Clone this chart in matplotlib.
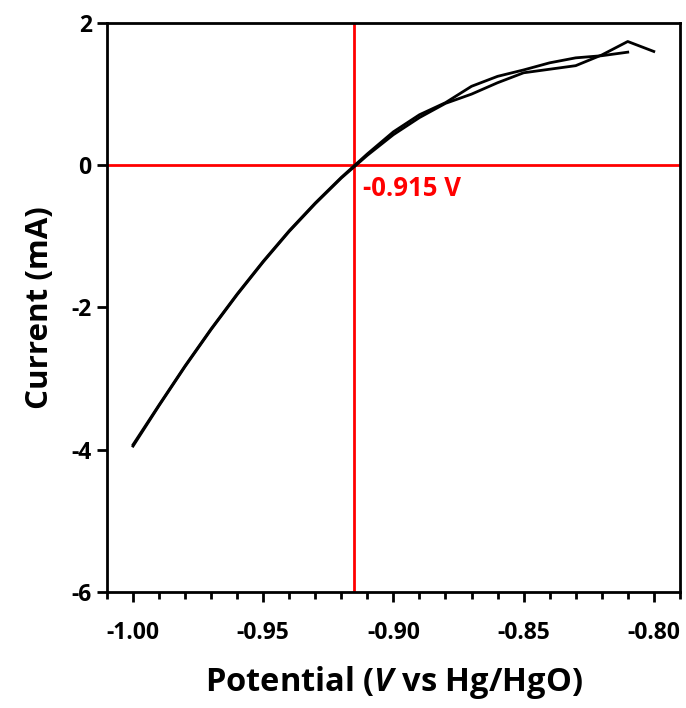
import numpy as np
import matplotlib
matplotlib.use('Agg')
import matplotlib.pyplot as plt
from matplotlib.ticker import MultipleLocator

plt.rcParams['font.family'] = ['Open Sans', 'DejaVu Sans']
plt.rcParams['font.weight'] = 'bold'
plt.rcParams['mathtext.fontset'] = 'custom'
plt.rcParams['mathtext.bfit'] = 'Open Sans:bold:italic'
plt.rcParams['mathtext.rm'] = 'Open Sans:bold'

# barrido de ida (-1.00 -> -0.80)
potencial_ida = [-1.00, -0.99, -0.98, -0.97, -0.96, -0.95, -0.94, -0.93, -0.92, -0.91, -0.90,
                 -0.89, -0.88, -0.87, -0.86, -0.85, -0.84, -0.83, -0.82, -0.81, -0.80]
corriente_ida = [-3.95, -3.38, -2.83, -2.31, -1.82, -1.36, -0.93, -0.54, -0.18, 0.14, 0.43,
                 0.67, 0.87, 1.00, 1.16, 1.30, 1.35, 1.40, 1.55, 1.74, 1.60]

# barrido de vuelta (-0.81 -> -1.00)
potencial_vuelta = [-0.81, -0.82, -0.83, -0.84, -0.85, -0.86, -0.87, -0.88, -0.89, -0.90,
                    -0.91, -0.92, -0.93, -0.94, -0.95, -0.96, -0.97, -0.98, -0.99, -1.00]
corriente_vuelta = [1.59, 1.54, 1.51, 1.44, 1.34, 1.25, 1.11, 0.88, 0.71, 0.47,
                    0.16, -0.17, -0.53, -0.92, -1.35, -1.81, -2.30, -2.82, -3.37, -3.93]

# potencial de corriente cero
e_cero = -0.915

fig = plt.figure(figsize=(6.86, 7.08), dpi=100)
ax = fig.add_axes([0.156, 0.164, 0.835, 0.8035])

ax.axvline(e_cero, color='red', lw=2, zorder=1)
ax.axhline(0, color='red', lw=2, zorder=1)
ax.plot(potencial_ida, corriente_ida, color='black', lw=2, zorder=2)
ax.plot(potencial_vuelta, corriente_vuelta, color='black', lw=2, zorder=2)

ax.text(e_cero + 0.0035, -0.33, '-0.915 V', color='red', fontsize=18.5,
        fontweight='bold', ha='left', va='center')

ax.set_xlim(-1.01, -0.79)
ax.set_ylim(-6, 2)
ax.xaxis.set_minor_locator(MultipleLocator(0.01))
ax.set_xticks([-1.00, -0.95, -0.90, -0.85, -0.80])
ax.set_xticklabels(['-1.00', '-0.95', '-0.90', '-0.85', '-0.80'], fontweight='bold')
ax.set_yticks([-6, -4, -2, 0, 2])
ax.set_yticklabels(['-6', '-4', '-2', '0', '2'], fontweight='bold')

ax.tick_params(axis='both', which='major', direction='out', length=7, width=2,
               labelsize=16.5)
ax.tick_params(axis='x', which='major', pad=14)
ax.tick_params(axis='y', which='major', pad=4)
ax.tick_params(axis='x', which='minor', direction='out', length=5, width=2)
for s in ax.spines.values():
    s.set_linewidth(2)

ax.set_xlabel(r'Potential ($\mathbfit{V}$ vs Hg/HgO)', fontsize=23.5, fontweight='bold', labelpad=14)
ax.set_ylabel('Current (mA)', fontsize=22.5, fontweight='bold', labelpad=12)

fig.savefig('out.png', dpi=100)
